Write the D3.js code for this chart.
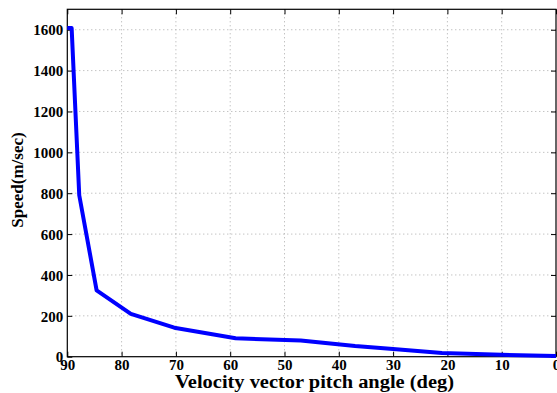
<!DOCTYPE html>
<html>
<head>
<meta charset="utf-8">
<script src="https://cdn.jsdelivr.net/npm/d3@7"></script>
<style>
  html, body { margin: 0; padding: 0; background: #fff; }
  svg text { font-family: "Liberation Serif", "Times New Roman", serif; font-weight: bold; fill: #000; }
</style>
</head>
<body>
<svg id="chart" width="557" height="393"></svg>
<script>
// Pitch angle (deg) and speed (m/sec) along the trajectory
const pitchAngle = [90, 89.2, 87.8, 84.6, 78.3, 70.3, 59, 47, 37, 30, 21, 10, 0];
const speed      = [1608, 1608, 790, 325, 210, 142, 90, 79, 52, 38, 18, 9, 3];

const xTicks = [90, 80, 70, 60, 50, 40, 30, 20, 10, 0];
const yTicks = [0, 200, 400, 600, 800, 1000, 1200, 1400, 1600];

const xLabel = "Velocity vector pitch angle (deg)";
const yLabel = "Speed(m/sec)";

const svg = d3.select("#chart");
const margin = { left: 67.3, right: 1, top: 9.3, bottom: 36.3 };
const W = 557, H = 393;
const iw = W - margin.left - margin.right;
const ih = H - margin.top - margin.bottom;

const x = d3.scaleLinear().domain([90, 0]).range([0, iw]);
const y = d3.scaleLinear().domain([0, 1700]).range([ih, 0]);

const g = svg.append("g").attr("transform", `translate(${margin.left},${margin.top})`);

// dotted grid
g.append("g").selectAll("line").data(xTicks.slice(1, -1)).join("line")
  .attr("x1", d => x(d)).attr("x2", d => x(d)).attr("y1", 0).attr("y2", ih)
  .attr("stroke", "#aaa").attr("stroke-width", 1).attr("stroke-dasharray", "1,3");
g.append("g").selectAll("line").data(yTicks.slice(1)).join("line")
  .attr("x1", 0).attr("x2", iw).attr("y1", d => y(d)).attr("y2", d => y(d))
  .attr("stroke", "#aaa").attr("stroke-width", 1).attr("stroke-dasharray", "1,3");

// axes with inward ticks on all four sides
const xAxis = d3.axisBottom(x).tickValues(xTicks).tickSize(-5).tickPadding(4).tickFormat(d3.format("d"));
const yAxis = d3.axisLeft(y).tickValues(yTicks).tickSize(-5).tickPadding(4).tickFormat(d3.format("d"));
const xa = g.append("g").attr("transform", `translate(0,${ih})`).call(xAxis);
const ya = g.append("g").call(yAxis);
const xt = g.append("g").call(d3.axisTop(x).tickValues(xTicks).tickSize(-5).tickFormat(""));
const yr = g.append("g").attr("transform", `translate(${iw},0)`).call(d3.axisRight(y).tickValues(yTicks).tickSize(-5).tickFormat(""));
[xa, ya, xt, yr].forEach(a => {
  a.select(".domain").remove();
  a.selectAll(".tick line").attr("stroke", "#000");
});
xa.selectAll("text").attr("font-size", 15).attr("dy", "0.62em");
ya.selectAll("text").attr("font-size", 15).attr("dy", "0.35em");

// frame
g.append("rect").attr("x", 0).attr("y", 0).attr("width", iw).attr("height", ih)
  .attr("fill", "none").attr("stroke", "#000").attr("stroke-width", 1.2);

// data line
const line = d3.line().x((d, i) => x(pitchAngle[i])).y(d => y(d));
g.append("path").datum(speed).attr("d", line)
  .attr("fill", "none").attr("stroke", "#0000ff").attr("stroke-width", 4)
  .attr("stroke-linejoin", "round");

// axis titles
svg.append("text").attr("x", 314.5).attr("y", 387.5)
  .attr("text-anchor", "middle").attr("font-size", 18)
  .attr("textLength", 279).attr("lengthAdjust", "spacingAndGlyphs").text(xLabel);
svg.append("text").attr("transform", `translate(23,${margin.top + ih / 2 - 3}) rotate(-90)`)
  .attr("text-anchor", "middle").attr("font-size", 17).text(yLabel);
</script>
</body>
</html>
